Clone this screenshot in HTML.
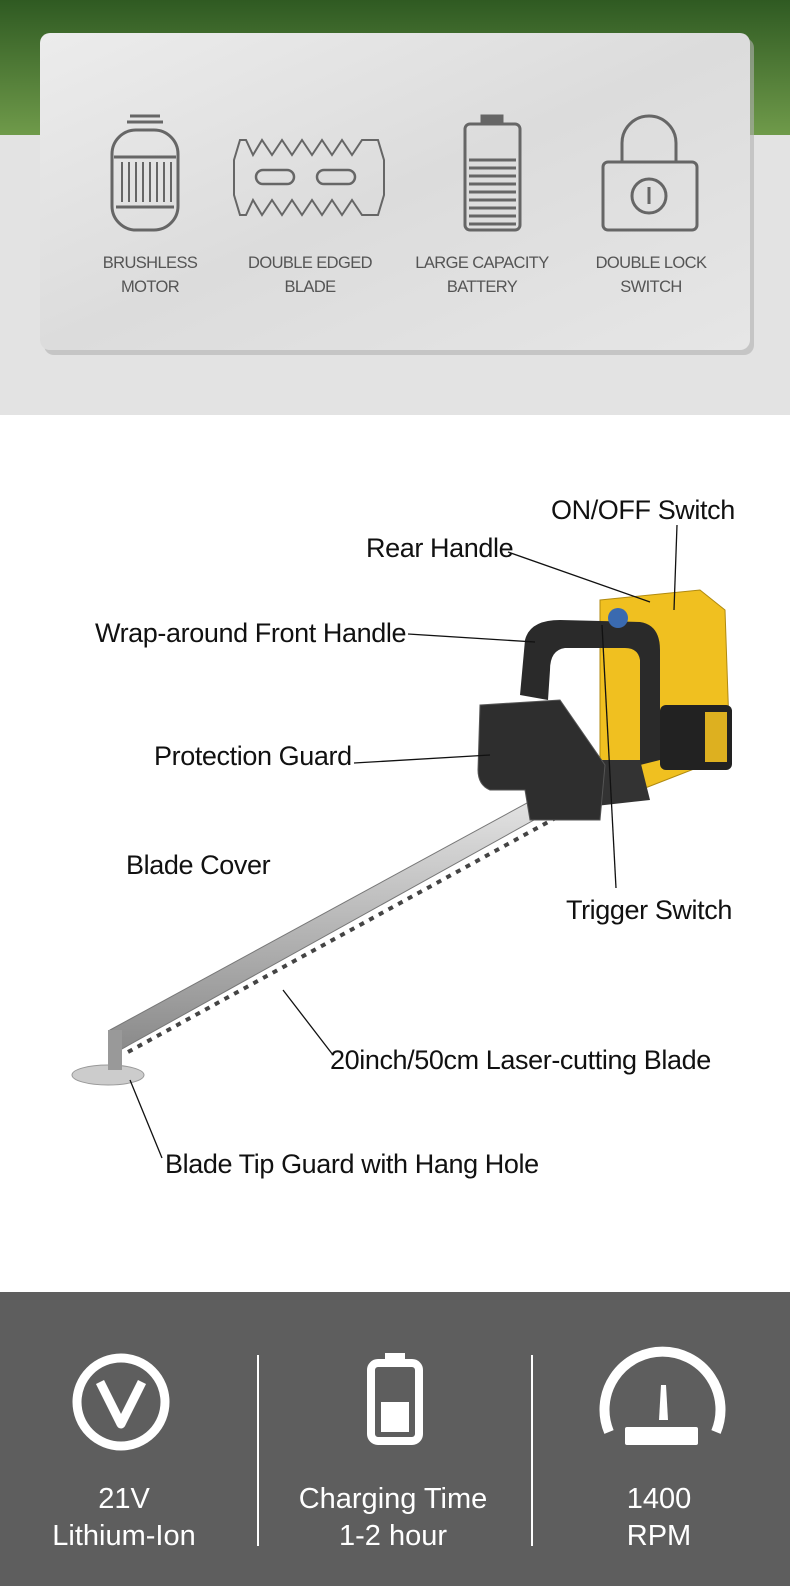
<!DOCTYPE html>
<html><head><meta charset="utf-8"><style>
html,body{margin:0;padding:0;background:#fff}
svg{display:block}
text{font-family:"Liberation Sans",sans-serif}
</style></head><body>
<svg width="790" height="1586" viewBox="0 0 790 1586" xmlns="http://www.w3.org/2000/svg">
<defs>
<linearGradient id="g" x1="0" y1="0" x2="0" y2="1"><stop offset="0" stop-color="#2f5a22"/><stop offset="1" stop-color="#6f9a4a"/></linearGradient>
<linearGradient id="m" x1="0" y1="0" x2="1" y2="1"><stop offset="0" stop-color="#ececec"/><stop offset="0.5" stop-color="#dcdcdc"/><stop offset="1" stop-color="#e6e6e6"/></linearGradient>
<linearGradient id="bl" x1="0" y1="0" x2="0" y2="1"><stop offset="0" stop-color="#e8e8e8"/><stop offset="1" stop-color="#8a8a8a"/></linearGradient>
</defs>
<rect x="0" y="0" width="790" height="135" fill="url(#g)"/>
<rect x="0" y="135" width="790" height="280" fill="#e3e3e3"/>
<rect x="44" y="38" width="710" height="317" rx="10" fill="#b0b0b0" opacity="0.6"/>
<rect x="40" y="33" width="710" height="317" rx="10" fill="url(#m)"/>
<g fill="none" stroke="#666" stroke-width="3">
<rect x="112" y="130" width="66" height="100" rx="24"/>
<line x1="130" y1="116" x2="160" y2="116"/><line x1="127" y1="122" x2="163" y2="122"/>
<line x1="114" y1="157" x2="176" y2="157"/><line x1="116" y1="207" x2="174" y2="207"/>
<path d="M122 162v40M129 162v40M136 162v40M143 162v40M150 162v40M157 162v40M164 162v40M171 162v40" stroke-width="2"/>
<path d="M240 140 L246 140 L253 155 L262 140 L272 155 L282 140 L292 155 L302 140 L312 155 L322 140 L332 155 L342 140 L352 155 L362 140 L378 140 L384 160 L384 195 L378 215 L362 215 L352 200 L342 215 L332 200 L322 215 L312 200 L302 215 L292 200 L282 215 L272 200 L262 215 L253 200 L246 215 L240 215 L234 195 L234 160 Z" stroke-width="2"/>
<rect x="256" y="170" width="38" height="14" rx="7" stroke-width="2.5"/>
<rect x="317" y="170" width="38" height="14" rx="7" stroke-width="2.5"/>
<rect x="465" y="124" width="55" height="106" rx="5"/>
<rect x="482" y="116" width="20" height="6" fill="#666"/>
<path d="M469 160h47M469 168h47M469 176h47M469 184h47M469 192h47M469 200h47M469 208h47M469 216h47M469 224h47"/>
<path d="M622 162 V143 a27 27 0 0 1 54 0 V162"/>
<rect x="603" y="162" width="94" height="68" rx="5"/>
<circle cx="649" cy="196" r="17"/><line x1="649" y1="187" x2="649" y2="204"/>
</g>
<g fill="#555" font-size="16.5" text-anchor="middle" letter-spacing="-0.6">
<text x="150" y="268">BRUSHLESS</text><text x="150" y="292">MOTOR</text>
<text x="310" y="268">DOUBLE EDGED</text><text x="310" y="292">BLADE</text>
<text x="482" y="268">LARGE CAPACITY</text><text x="482" y="292">BATTERY</text>
<text x="651" y="268">DOUBLE LOCK</text><text x="651" y="292">SWITCH</text>
</g>
<rect x="0" y="415" width="790" height="875" fill="#fff"/>
<polygon points="110,1030 560,785 570,800 120,1050" fill="url(#bl)" stroke="#777"/>
<g stroke="#444" stroke-width="4" stroke-dasharray="5 6"><line x1="128" y1="1052" x2="570" y2="810"/></g>
<ellipse cx="108" cy="1075" rx="36" ry="10" fill="#ccc" stroke="#999"/>
<rect x="108" y="1030" width="14" height="40" fill="#999"/>
<path d="M600 600 L700 590 L725 610 L730 755 L640 790 L600 760 Z" fill="#f0c020" stroke="#b08a10"/>
<rect x="660" y="705" width="72" height="65" rx="6" fill="#222"/>
<rect x="705" y="712" width="22" height="50" fill="#ddb020"/>
<path d="M520 695 L525 640 Q530 620 560 620 L640 622 Q660 625 660 650 L660 760 L640 765 L640 660 Q638 648 625 648 L565 648 Q550 650 550 670 L548 700 Z" fill="#2a2a2a"/>
<path d="M540 760 L640 760 L650 800 L560 810 Z" fill="#333"/>
<path d="M480 705 L560 700 L605 765 L600 820 L530 820 L525 790 L490 790 Q478 785 478 770 Z" fill="#2e2e2e" stroke="#555"/>
<circle cx="618" cy="618" r="10" fill="#3a6ab0"/>
<g stroke="#111" stroke-width="1.3" fill="none">
<line x1="677" y1="525" x2="674" y2="610"/>
<line x1="508" y1="552" x2="650" y2="602"/>
<line x1="408" y1="634" x2="535" y2="642"/>
<line x1="354" y1="763" x2="490" y2="755"/>
<line x1="602" y1="625" x2="616" y2="888"/>
<line x1="333" y1="1055" x2="283" y2="990"/>
<line x1="162" y1="1158" x2="130" y2="1080"/>
</g>
<g fill="#111" font-size="27" letter-spacing="-0.4">
<text x="551" y="519">ON/OFF Switch</text>
<text x="366" y="557">Rear Handle</text>
<text x="95" y="642">Wrap-around Front Handle</text>
<text x="154" y="765">Protection Guard</text>
<text x="126" y="874">Blade Cover</text>
<text x="566" y="919">Trigger Switch</text>
<text x="330" y="1069">20inch/50cm Laser-cutting Blade</text>
<text x="165" y="1173">Blade Tip Guard with Hang Hole</text>
</g>
<rect x="0" y="1292" width="790" height="294" fill="#5e5e5e"/>
<g stroke="#fff" stroke-width="2"><line x1="258" y1="1355" x2="258" y2="1546"/><line x1="532" y1="1355" x2="532" y2="1546"/></g>
<circle cx="121" cy="1402" r="44" fill="none" stroke="#fff" stroke-width="9"/>
<path d="M100 1382 L121 1424 L142 1382" fill="none" stroke="#fff" stroke-width="9" stroke-linejoin="round"/>
<rect x="371" y="1363" width="48" height="78" rx="7" fill="none" stroke="#fff" stroke-width="8"/>
<rect x="385" y="1353" width="20" height="10" fill="#fff"/>
<rect x="381" y="1402" width="28" height="30" fill="#fff"/>
<path d="M609 1432 A58 58 0 1 1 716 1432" fill="none" stroke="#fff" stroke-width="10"/>
<rect x="625" y="1427" width="73" height="18" rx="2" fill="#fff"/>
<polygon points="661,1385 666,1385 668,1420 659,1420" fill="#fff"/>
<g fill="#fff" font-size="29" text-anchor="middle">
<text x="124" y="1508">21V</text><text x="124" y="1545">Lithium-Ion</text>
<text x="393" y="1508">Charging Time</text><text x="393" y="1545">1-2 hour</text>
<text x="659" y="1508">1400</text><text x="659" y="1545">RPM</text>
</g>
</svg>
</body></html>
